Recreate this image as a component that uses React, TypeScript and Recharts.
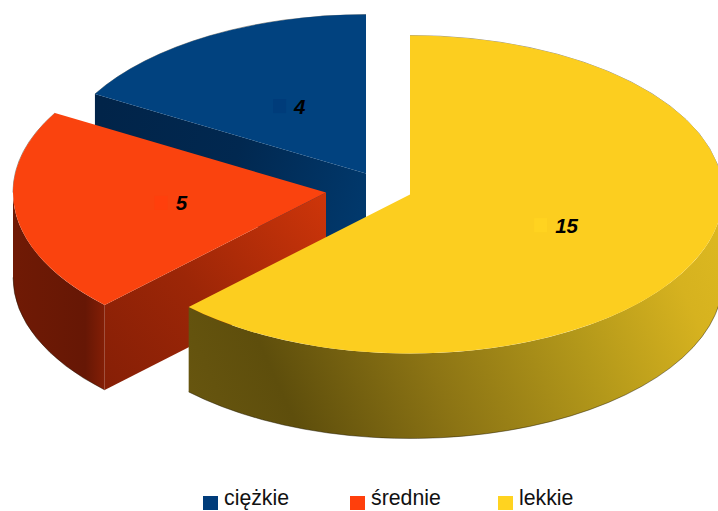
import React from "react";
import { PieChart, Pie, Legend } from "recharts";

const CATEGORIES = ["ciężkie", "średnie", "lekkie"];
const VALUES = [4, 5, 15];
const TOP_COLORS = ["#01427f", "#fa430e", "#fcce1f"];
const KEY_COLORS = ["#003c7a", "#ff3f0c", "#ffd320"];

const tableData = CATEGORIES.map((name, i) => ({ name, value: VALUES[i], fill: TOP_COLORS[i] }));

const W = 718;
const H = 511;
const RADIUS = 313;
const SQUASH = 159 / 313;
const DEPTH = 85;
const EXPLODE = [
  { dx: -44, dy: -21 },
  { dx: -84, dy: -2 },
  { dx: 0, dy: 0 },
];
const LABEL_RADIUS = [0.49, 0.5, 0.505];
const RADIAL_WALLS = [
  { from: { x: 94, y: 130 }, to: { x: 366, y: 220 }, stops: [["0%", "#012449"], ["50%", "#012850"], ["100%", "#01396d"]] },
  { from: { x: 105, y: 387 }, to: { x: 326, y: 200 }, stops: [["0%", "#861f06"], ["45%", "#9c2607"], ["100%", "#cd350a"]] },
  { from: { x: 189, y: 340 }, to: { x: 410, y: 340 }, stops: [["0%", "#6b5a10"], ["100%", "#6b5a10"]] },
];
const OUTER_WALLS = [
  { from: { x: 0, y: 0 }, to: { x: 100, y: 0 }, stops: [["0%", "#012449"], ["100%", "#012449"]] },
  { from: { x: 12, y: 300 }, to: { x: 106, y: 300 }, stops: [["0%", "#701a05"], ["78%", "#661705"], ["100%", "#861f06"]] },
  { from: { x: 189, y: 470 }, to: { x: 720, y: 230 }, stops: [["0%", "#6a5810"], ["20%", "#5e4e0c"], ["45%", "#8c7414"], ["70%", "#b3981a"], ["90%", "#d6b21f"], ["100%", "#dcb820"]] },
];

const RAD = Math.PI / 180;

function point(cx: number, cy: number, r: number, deg: number) {
  return { x: cx + r * Math.cos(deg * RAD), y: cy - r * SQUASH * Math.sin(deg * RAD) };
}

function arc(r: number, to: { x: number; y: number }, sweep: number) {
  return `A ${r} ${r * SQUASH} 0 ${Math.abs(sweep) > 180 ? 1 : 0} ${sweep > 0 ? 0 : 1} ${to.x} ${to.y}`;
}

function Gradient({ id, spec }: { id: string; spec: any }) {
  return (
    <linearGradient id={id} gradientUnits="userSpaceOnUse" x1={spec.from.x} y1={spec.from.y} x2={spec.to.x} y2={spec.to.y}>
      {spec.stops.map((s: string[]) => (
        <stop key={s[0]} offset={s[0]} stopColor={s[1]} />
      ))}
    </linearGradient>
  );
}

function Slice3D(props: any) {
  const { cx, cy, outerRadius: r, startAngle, endAngle, fill } = props;
  const name = props.payload?.name ?? props.name;
  const i = CATEGORIES.indexOf(name);
  const ox = cx + EXPLODE[i].dx;
  const oy = cy + EXPLODE[i].dy;
  const a = point(ox, oy, r, startAngle);
  const b = point(ox, oy, r, endAngle);

  const radial = (p: { x: number; y: number }) =>
    `M ${ox} ${oy} L ${p.x} ${p.y} L ${p.x} ${p.y + DEPTH} L ${ox} ${oy + DEPTH} Z`;

  const wallFrom = Math.max(startAngle, 180);
  const wallTo = Math.min(endAngle, 360);
  let outer = "";
  let rim = "";
  if (wallTo > wallFrom) {
    const p = point(ox, oy, r, wallFrom);
    const q = point(ox, oy, r, wallTo);
    outer = `M ${p.x} ${p.y} ${arc(r, q, wallTo - wallFrom)} L ${q.x} ${q.y + DEPTH} ${arc(r, { x: p.x, y: p.y + DEPTH }, wallFrom - wallTo)} Z`;
    rim = `M ${p.x} ${p.y + DEPTH} ${arc(r, { x: q.x, y: q.y + DEPTH }, wallTo - wallFrom)}`;
  }
  const backFrom = Math.max(startAngle, i === 2 ? 360 : startAngle);
  const backTo = i === 2 ? endAngle : Math.min(endAngle, 180);
  const bf = point(ox, oy, r, backFrom);
  const bt = point(ox, oy, r, backTo);
  const back = `M ${bf.x} ${bf.y} ${arc(r, bt, backTo - backFrom)}`;
  const top = `M ${ox} ${oy} L ${a.x} ${a.y} ${arc(r, b, endAngle - startAngle)} Z`;

  return (
    <g>
      <defs>
        <Gradient id={`radial-${i}`} spec={RADIAL_WALLS[i]} />
        <Gradient id={`outer-${i}`} spec={OUTER_WALLS[i]} />
      </defs>
      <path d={radial(b)} fill={`url(#radial-${i})`} />
      {outer && <path d={outer} fill={`url(#outer-${i})`} />}
      {rim && <path d={rim} fill="none" stroke="#1c1404" strokeOpacity={0.55} strokeWidth={0.8} />}
      <path d={back} fill="none" stroke="#1c1404" strokeOpacity={0.55} strokeWidth={0.8} />
      <path d={top} fill={fill} />
    </g>
  );
}

function SliceLabel(props: any) {
  const { cx, cy, outerRadius: r, midAngle, value, index } = props;
  const p = point(cx + EXPLODE[index].dx, cy + EXPLODE[index].dy, r * LABEL_RADIUS[index], midAngle);
  const text = String(value);
  const keyW = 13;
  const keyH = 14;
  const gap = 8;
  const width = keyW + gap + text.length * 11.4;
  const left = p.x - width / 2;
  return (
    <g>
      <rect x={left} y={p.y - keyH / 2} width={keyW} height={keyH} fill={KEY_COLORS[index]} />
      <text
        x={left + keyW + gap}
        y={p.y + 7.5}
        fontFamily="'Liberation Sans', Arial, sans-serif"
        fontSize={20.5}
        fontWeight="bold"
        fontStyle="italic"
        fill="#000"
      >
        {text}
      </text>
    </g>
  );
}

const LEGEND_X = [203, 350, 498];

function LegendContent() {
  return (
    <div style={{ position: "relative", width: W, height: 26 }}>
      {CATEGORIES.map((name, i) => (
        <React.Fragment key={name}>
          <span
            style={{
              position: "absolute",
              left: LEGEND_X[i],
              top: 11,
              width: 15,
              height: 14,
              background: KEY_COLORS[i],
            }}
          />
          <span
            style={{
              position: "absolute",
              left: LEGEND_X[i] + 21,
              top: 4,
              fontFamily: "'Liberation Sans', Arial, sans-serif",
              fontSize: 21.3,
              lineHeight: "19px",
              color: "#111",
              whiteSpace: "nowrap",
            }}
          >
            {name}
          </span>
        </React.Fragment>
      ))}
    </div>
  );
}

export default function App() {
  return (
    <div style={{ position: "absolute", left: 0, top: 0, width: W, height: H, overflow: "hidden", background: "#fff" }}>
      <PieChart width={W} height={H} margin={{ top: 0, right: 0, bottom: 0, left: 0 }}>
        <Pie
          data={tableData}
          dataKey="value"
          nameKey="name"
          cx={410}
          cy={194.5}
          outerRadius={RADIUS}
          innerRadius={0}
          startAngle={90}
          endAngle={450}
          stroke="none"
          shape={Slice3D}
          label={SliceLabel}
          labelLine={false}
          isAnimationActive={false}
        />
        <Legend
          content={<LegendContent />}
          layout="horizontal"
          verticalAlign="bottom"
          wrapperStyle={{ left: 0, top: 485, width: W, height: 26, bottom: "auto" }}
        />
      </PieChart>
    </div>
  );
}
